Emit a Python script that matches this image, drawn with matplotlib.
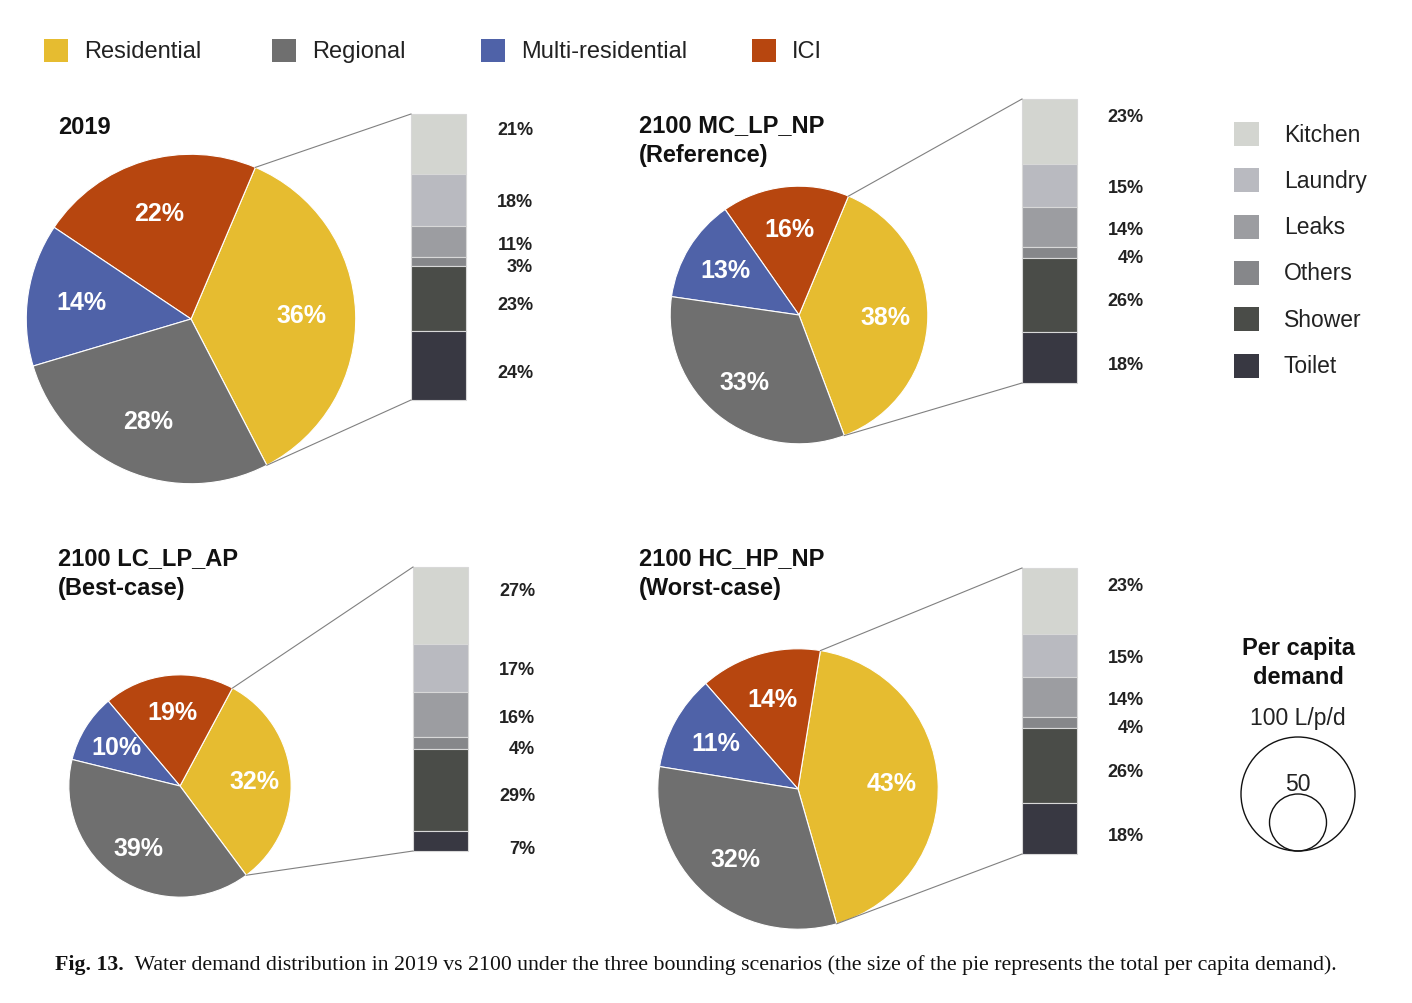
import matplotlib
matplotlib.use("Agg")
import matplotlib.pyplot as plt
from matplotlib.patches import Circle, Rectangle
import numpy as np

# ---------------- data ----------------
scenarios = ["2019", "2100 MC_LP_NP\n(Reference)", "2100 LC_LP_AP\n(Best-case)", "2100 HC_HP_NP\n(Worst-case)"]
sectors = ["Residential", "Regional", "Multi-residential", "ICI"]
residential = [36, 38, 32, 43]
regional = [28, 33, 39, 32]
multi_res = [14, 13, 10, 11]
ici = [22, 16, 19, 14]
per_capita = [289, 226, 195, 246]

end_uses = ["Kitchen", "Laundry", "Leaks", "Others", "Shower", "Toilet"]
uses_2019 = [21, 18, 11, 3, 23, 24]
uses_ref = [23, 15, 14, 4, 26, 18]
uses_best = [27, 17, 16, 4, 29, 7]
uses_worst = [23, 15, 14, 4, 26, 18]
end_use_shares = [uses_2019, uses_ref, uses_best, uses_worst]

ref_sizes = [100, 50]

# ---------------- style ----------------
sector_colors = {"Residential": "#E6BC30", "Regional": "#6F6F6F",
                 "Multi-residential": "#4F62A8", "ICI": "#B7460F"}
use_colors = ["#D3D5D0", "#B9BAC0", "#9C9DA1", "#86878A", "#4A4C48", "#383842"]

W, H = 1412, 1004
def Y(y):
    return H - y

SANS = ["Liberation Sans", "DejaVu Sans"]
SERIF = ["Liberation Serif", "DejaVu Serif"]

fig = plt.figure(figsize=(W / 100, H / 100), dpi=100)
ax = fig.add_axes([0, 0, 1, 1])

px_per_L = 57 / 100.0

# layout per panel: pie centre, startangle, bar left, bar top, bar height, title pos
layout = [
    dict(c=(191, 320), start=-62.6, bx=411, btop=115, bh=286, title=(58, 128)),
    dict(c=(799, 316), start=-69.4, bx=1022, btop=100, bh=284, title=(639, 127)),
    dict(c=(180, 787), start=-53.4, bx=413, btop=568, bh=284, title=(58, 560)),
    dict(c=(798, 790), start=-74.0, bx=1022, btop=569, bh=286, title=(639, 560)),
]
bar_w = 55
label_shift = [15, -2, -3, -5, -6, -7]   # px vertical nudges of bar labels

for i, L in enumerate(layout):
    cx, cy = L["c"]
    r = per_capita[i] * px_per_L
    vals = [residential[i], ici[i], multi_res[i], regional[i]]
    cols = [sector_colors["Residential"], sector_colors["ICI"],
            sector_colors["Multi-residential"], sector_colors["Regional"]]
    wedges, texts, autotexts = ax.pie(
        vals, colors=cols, startangle=L["start"], counterclock=True,
        center=(cx, Y(cy)), radius=r, frame=True,
        autopct=lambda p: f"{p:.0f}%", pctdistance=0.67,
        wedgeprops=dict(edgecolor="white", linewidth=0.8),
        textprops=dict(color="white", fontweight="bold", fontsize=18, family=SANS))

    # residential wedge boundary angles
    a0 = np.deg2rad(L["start"])
    a1 = np.deg2rad(L["start"] + residential[i] * 3.6)
    p_top = (cx + r * np.cos(a1), Y(cy) + r * np.sin(a1))
    p_bot = (cx + r * np.cos(a0), Y(cy) + r * np.sin(a0))

    # stacked bar of residential end uses (top to bottom)
    shares = end_use_shares[i]
    top = Y(L["btop"])
    bh = L["bh"]
    cum = 0.0
    bx = L["bx"]
    for k, s in enumerate(shares):
        h = s / 100.0 * bh
        bottom = top - cum - h
        ax.bar(bx + bar_w / 2, h, width=bar_w, bottom=bottom, color=use_colors[k],
               edgecolor="#d8d8d8", linewidth=0.8)
        ax.text(bx + bar_w + 67, bottom + h / 2 + label_shift[k], f"{s}%", ha="right", va="center",
                fontsize=13, fontweight="bold", family=SANS, color="#222222")
        cum += h
    bar_bot = top - bh

    ax.plot([p_top[0], bx], [p_top[1], top], color="#808080", lw=0.8)
    ax.plot([p_bot[0], bx], [p_bot[1], bar_bot], color="#808080", lw=0.8)

    tx, ty = L["title"]
    if "\n" in scenarios[i]:
        ax.text(tx, Y(ty) + 13, scenarios[i], ha="left", va="top", fontsize=17,
                fontweight="bold", family=SANS, color="#111111", linespacing=1.38)
    else:
        ax.text(tx, Y(ty), scenarios[i], ha="left", va="center", fontsize=17,
                fontweight="bold", family=SANS, color="#111111")

# top legend
legend_x = [44, 272, 481, 752]
for name, lx in zip(sectors, legend_x):
    ax.add_patch(Rectangle((lx, Y(63)), 24, 23, facecolor=sector_colors[name], edgecolor="none"))
    ax.text(lx + 40, Y(52), name, ha="left", va="center", fontsize=17, family=SANS, color="#222222")

# right legend
for k, name in enumerate(end_uses):
    yy = 135 + k * 46.3
    ax.add_patch(Rectangle((1234, Y(yy + 12)), 25, 24, facecolor=use_colors[k], edgecolor="none"))
    ax.text(1284, Y(yy), name, ha="left", va="center", fontsize=16.5, family=SANS, color="#222222")

# per capita demand key
ax.text(1298, Y(663), "Per capita\ndemand", ha="center", va="center", fontsize=17,
        fontweight="bold", family=SANS, color="#111111", linespacing=1.35)
ax.text(1298, Y(718), f"{ref_sizes[0]} L/p/d", ha="center", va="center", fontsize=16.5,
        family=SANS, color="#222222")
base = Y(852)
for v in ref_sizes:
    rr = v * px_per_L
    ax.add_patch(Circle((1298, base + rr), rr, facecolor="none", edgecolor="#111111", lw=1.0))
ax.text(1298, Y(785), f"{ref_sizes[1]}", ha="center", va="center", fontsize=16.5,
        family=SANS, color="#222222")

# caption
t1 = ax.text(55, Y(965), "Fig. 13.", ha="left", va="center", fontsize=15.7,
             fontweight="bold", family=SERIF, color="#111111")
ax.annotate("  Water demand distribution in 2019 vs 2100 under the three bounding scenarios "
            "(the size of the pie represents the total per capita demand).",
            xy=(1, 0.5), xycoords=t1, ha="left", va="center", fontsize=15.7,
            family=SERIF, color="#111111")

ax.set_xlim(0, W)
ax.set_ylim(0, H)
ax.set_aspect("auto")
ax.axis("off")

fig.savefig("out.png", dpi=100)
